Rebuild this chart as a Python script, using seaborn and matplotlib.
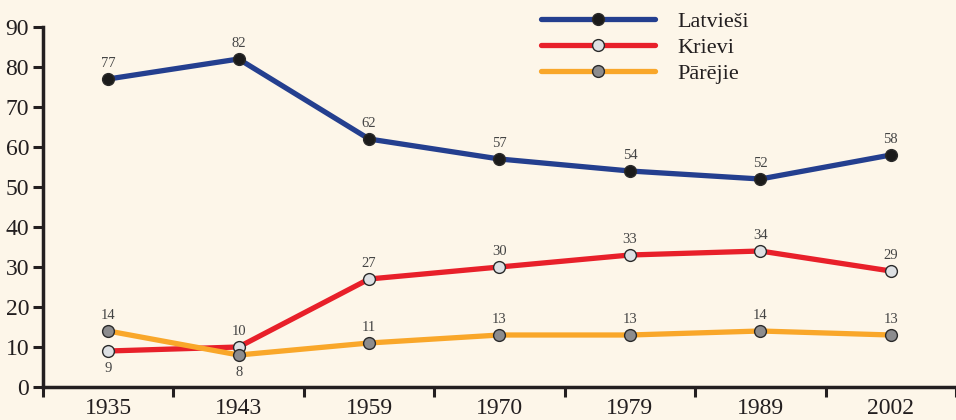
import matplotlib
matplotlib.use("Agg")
import matplotlib.pyplot as plt
import pandas as pd
import seaborn as sns

years = ["1935", "1943", "1959", "1970", "1979", "1989", "2002"]
latviesi = [77, 82, 62, 57, 54, 52, 58]
krievi = [9, 10, 27, 30, 33, 34, 29]
parejie = [14, 8, 11, 13, 13, 14, 13]
series_names = ["Latvieši", "Krievi", "Pārējie"]

# label placement: 1 above the point, -1 below
krievi_pos = [-1, 1, 1, 1, 1, 1, 1]
parejie_pos = [1, -1, 1, 1, 1, 1, 1]
latviesi_pos = [1] * 7

bg = "#fdf6e9"
sns.set_theme(style="white")
plt.rcParams["font.family"] = ["Liberation Serif", "DejaVu Serif"]

df = pd.DataFrame({"x": range(len(years)), "Latvieši": latviesi,
                   "Krievi": krievi, "Pārējie": parejie})

fig = plt.figure(figsize=(9.56, 4.2), dpi=100, facecolor=bg)
ax = fig.add_axes([43 / 956, 1 - 387 / 420, 1 - 43 / 956, 360 / 420])
ax.set_facecolor(bg)

styles = {
    "Latvieši": ("#243f8f", "#1b1b1b", latviesi_pos),
    "Krievi": ("#e8202a", "#dde0e3", krievi_pos),
    "Pārējie": ("#f9a72a", "#8c8c8e", parejie_pos),
}

for name in series_names:
    line_c, face_c, pos = styles[name]
    sns.lineplot(data=df, x="x", y=name, ax=ax, color=line_c, linewidth=3.8,
                 marker="o", markersize=8.5, markerfacecolor=face_c,
                 markeredgecolor="#2a2a2a", markeredgewidth=1.0,
                 label=name, zorder=3)
    for i, v in enumerate(df[name]):
        off = 11 if pos[i] > 0 else -12.5
        ax.annotate(str(v), (i, v), xytext=(0, off), textcoords="offset points",
                    ha="center", va="center", fontsize=10.5, color="#444444")

ax.set_xlim(-0.5, 6.5)
ax.set_ylim(0, 90)
ax.set_yticks(range(0, 91, 10))
ax.set_xticks([i + 0.5 for i in range(-1, 7)])
ax.set_xticklabels([])
ax.set_xticks(range(len(years)), minor=True)
ax.set_xticklabels(years, minor=True)
ax.tick_params(axis="x", which="minor", length=0, labelsize=17, pad=8,
               colors="#231f20")
ax.tick_params(axis="x", which="major", length=7, width=2.2, direction="out",
               color="#231f20", bottom=True)
ax.tick_params(axis="y", length=7, width=2.2, direction="out", labelsize=17,
               color="#231f20", labelcolor="#231f20", left=True, pad=3)
ax.set_xlabel("")
ax.set_ylabel("")
for s in ["top", "right"]:
    ax.spines[s].set_visible(False)
for s in ["left", "bottom"]:
    ax.spines[s].set_linewidth(2.5)
    ax.spines[s].set_color("#231f20")

leg = ax.legend(loc="upper left", bbox_to_anchor=(0.524, 1.1), frameon=False,
                handlelength=5.1, handletextpad=1.0, labelspacing=0.25,
                fontsize=16, numpoints=1)
for t in leg.get_texts():
    t.set_color("#231f20")

fig.savefig("out.png", dpi=100, facecolor=bg)
